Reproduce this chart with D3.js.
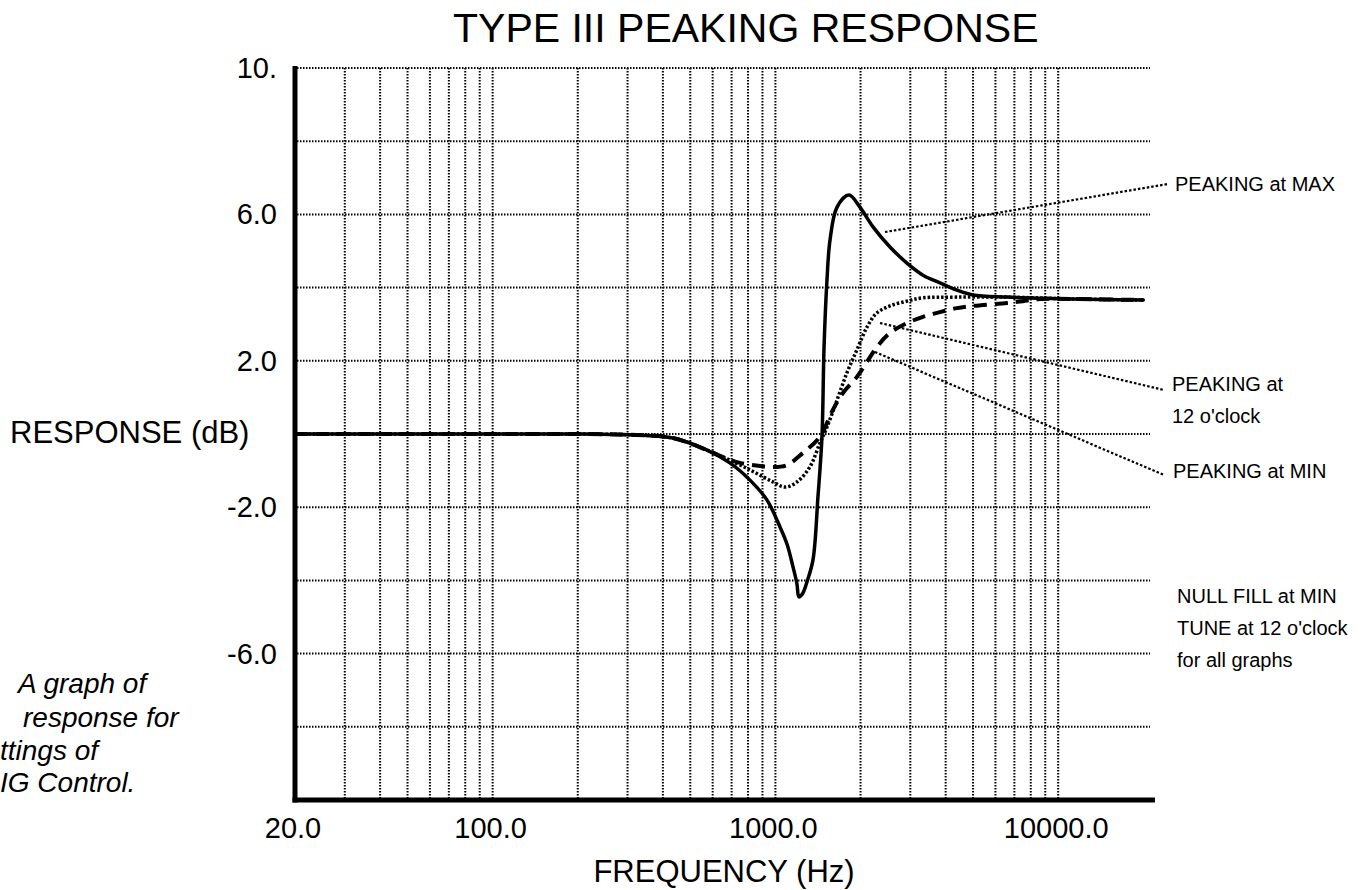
<!DOCTYPE html>
<html>
<head>
<meta charset="utf-8">
<script src="https://cdn.jsdelivr.net/npm/d3@7"></script>
<style>
  body { margin: 0; background: #fff; }
  svg { display: block; font-family: "Liberation Sans", Arial, Helvetica, sans-serif; }
</style>
</head>
<body>
<div id="stage_view"></div>
<script>

// tick values / labels
var xTicks = [20, 100, 1000, 10000];
var xTickLabels = ["20.0", "100.0", "1000.0", "10000.0"];
var yTicks = [10, 6, 2, -2, -6];
var yTickLabels = ["10.", "6.0", "2.0", "-2.0", "-6.0"];
var yGrid = [10, 8, 6, 4, 2, 0, -2, -4, -6, -8];
var xGrid = [30, 40, 50, 60, 70, 80, 90, 100,
             200, 300, 400, 500, 600, 700, 800, 900, 1000,
             2000, 3000, 4000, 5000, 6000, 7000, 8000, 9000, 10000];

// PEAKING at MAX (solid)
var freqMax = [20, 100, 200, 300, 332, 434, 573, 690, 813, 933, 1038, 1098, 1154, 1192, 1211, 1250, 1292, 1358, 1414,
               1461, 1486, 1522, 1560, 1652, 1820, 1990, 2214, 2542, 2918, 3326, 3818, 4384, 4992,
               6592, 11272, 20000];
var dbMax = [0, 0, 0, -0.02, -0.03, -0.11, -0.44, -0.79, -1.26, -1.80, -2.54, -3.0, -3.63, -4.1, -4.45, -4.35, -4.05, -3.44, -1.72,
             -0.08, 2.38, 4.21, 5.30, 6.20, 6.53, 6.20, 5.66, 5.11, 4.67, 4.34, 4.13, 3.93, 3.80,
             3.74, 3.69, 3.66];

// PEAKING at 12 o'clock (dotted)
var freq12 = [20, 100, 200, 300, 434, 573, 653, 813, 980, 1081, 1192, 1324, 1436, 1522, 1652, 1790,
              1942, 2108, 2286, 2542, 2918, 3326, 4384, 6592, 11272, 20000];
var db12 = [0, 0, 0, -0.02, -0.11, -0.44, -0.63, -0.98, -1.31, -1.45, -1.31, -0.90, -0.25, 0.19, 0.93, 1.67,
            2.30, 2.92, 3.31, 3.50, 3.63, 3.72, 3.74, 3.74, 3.69, 3.66];

// PEAKING at MIN (dashed)
var freqMin = [20, 100, 200, 300, 434, 573, 653, 750, 980, 1098, 1250, 1436, 1596, 1733, 1942, 2108,
               2286, 2542, 2918, 3326, 3818, 4384, 4992, 6592, 7500, 8618, 11272, 20000];
var dbMin = [0, 0, 0, -0.02, -0.11, -0.44, -0.63, -0.79, -0.90, -0.85, -0.52, -0.08, 0.66, 1.12, 1.56, 1.97,
             2.38, 2.76, 3.03, 3.20, 3.33, 3.44, 3.50, 3.58, 3.63, 3.69, 3.69, 3.66];

var notes = [
  {text: "PEAKING at MAX", x: 1175, y: 191, from: [885, 232], to: [1168, 184]},
  {text: "PEAKING at", x: 1172, y: 391, from: [880, 323], to: [1164, 390]},
  {text: "12 o'clock", x: 1172, y: 423},
  {text: "PEAKING at MIN", x: 1173, y: 478, from: [875, 352], to: [1164, 475]},
  {text: "NULL FILL at MIN", x: 1177, y: 603},
  {text: "TUNE at 12 o'clock", x: 1177, y: 635},
  {text: "for all graphs", x: 1177, y: 667}
];

var caption = [
  {text: "A graph of", x: 18, y: 693},
  {text: "response for", x: 23, y: 727},
  {text: "ttings of", x: 0, y: 760},
  {text: "IG Control.", x: 0, y: 792}
];

var svgContainer = d3.select("#stage_view")
                     .append("svg")
                     .attr("width", 1368)
                     .attr("height", 890);

svgContainer.append("rect").attr("width", 1368).attr("height", 890).attr("fill", "#fff");

var xScale = d3.scaleLog().domain([20, 22000]).range([295, 1155]);
var yScale = d3.scaleLinear().domain([-10, 10]).range([800, 68]);

// grid
var gridGroup = svgContainer.append("g").attr("class", "grid");
gridGroup.selectAll("line.h")
         .data(yGrid)
         .enter()
         .append("line")
         .attr("class", "h")
         .attr("x1", 297)
         .attr("x2", 1150)
         .attr("y1", function(d) { return yScale(d); })
         .attr("y2", function(d) { return yScale(d); });
gridGroup.selectAll("line.v")
         .data(xGrid)
         .enter()
         .append("line")
         .attr("class", "v")
         .attr("x1", function(d) { return xScale(d); })
         .attr("x2", function(d) { return xScale(d); })
         .attr("y1", yScale(10))
         .attr("y2", yScale(-10));
gridGroup.selectAll("line")
         .attr("stroke", "#000")
         .attr("stroke-width", 2)
         .attr("stroke-dasharray", "1.5,1.5");

// axes (thick lines, labels only)
svgContainer.append("line")
            .attr("x1", xScale(20)).attr("x2", xScale(20))
            .attr("y1", yScale(10) - 2).attr("y2", yScale(-10) + 2.5)
            .attr("stroke", "#000").attr("stroke-width", 5);
svgContainer.append("line")
            .attr("x1", xScale(20) - 2.5).attr("x2", xScale(22000))
            .attr("y1", yScale(-10)).attr("y2", yScale(-10))
            .attr("stroke", "#000").attr("stroke-width", 5);

svgContainer.selectAll("text.ytick")
            .data(yTicks)
            .enter()
            .append("text")
            .attr("class", "ytick")
            .attr("x", 277)
            .attr("y", function(d) { return yScale(d) + 10; })
            .attr("text-anchor", "end")
            .attr("font-size", 29)
            .text(function(d, i) { return yTickLabels[i]; });

svgContainer.selectAll("text.xtick")
            .data(xTicks)
            .enter()
            .append("text")
            .attr("class", "xtick")
            .attr("x", function(d) { return xScale(d) - 2; })
            .attr("y", 838)
            .attr("text-anchor", "middle")
            .attr("font-size", 29)
            .text(function(d, i) { return xTickLabels[i]; });

svgContainer.append("text")
            .attr("x", 453).attr("y", 42)
            .attr("font-size", 41)
            .text("TYPE III PEAKING RESPONSE");
svgContainer.append("text")
            .attr("x", 724).attr("y", 882)
            .attr("text-anchor", "middle")
            .attr("font-size", 31)
            .text("FREQUENCY (Hz)");
svgContainer.append("text")
            .attr("x", 10).attr("y", 443)
            .attr("font-size", 31)
            .text("RESPONSE (dB)");

// curves
var line = d3.line()
             .x(function(d) { return xScale(d[0]); })
             .y(function(d) { return yScale(d[1]); })
             .curve(d3.curveCatmullRom.alpha(0.5));

function pairs(f, v) {
  return f.map(function(d, i) { return [d, v[i]]; });
}

svgContainer.append("path")
            .datum(pairs(freqMin, dbMin))
            .attr("d", line)
            .attr("fill", "none")
            .attr("stroke", "#000")
            .attr("stroke-width", 4)
            .attr("stroke-dasharray", "13,8");
svgContainer.append("path")
            .datum(pairs(freq12, db12))
            .attr("d", line)
            .attr("fill", "none")
            .attr("stroke", "#000")
            .attr("stroke-width", 3.5)
            .attr("stroke-dasharray", "2.5,2");
svgContainer.append("path")
            .datum(pairs(freqMax, dbMax))
            .attr("d", line)
            .attr("fill", "none")
            .attr("stroke", "#000")
            .attr("stroke-width", 3.5)
            .attr("stroke-linecap", "round")
            .attr("stroke-linejoin", "round");

// annotations
var noteGroup = svgContainer.append("g");
noteGroup.selectAll("line")
         .data(notes.filter(function(d) { return d.from; }))
         .enter()
         .append("line")
         .attr("x1", function(d) { return d.from[0]; })
         .attr("y1", function(d) { return d.from[1]; })
         .attr("x2", function(d) { return d.to[0]; })
         .attr("y2", function(d) { return d.to[1]; })
         .attr("stroke", "#000")
         .attr("stroke-width", 2.2)
         .attr("stroke-dasharray", "2.5,2");
noteGroup.selectAll("text")
         .data(notes)
         .enter()
         .append("text")
         .attr("x", function(d) { return d.x; })
         .attr("y", function(d) { return d.y; })
         .attr("font-size", 20)
         .text(function(d) { return d.text; });

svgContainer.selectAll("text.caption")
            .data(caption)
            .enter()
            .append("text")
            .attr("class", "caption")
            .attr("x", function(d) { return d.x; })
            .attr("y", function(d) { return d.y; })
            .attr("font-size", 28)
            .attr("font-style", "italic")
            .text(function(d) { return d.text; });

</script>
</body>
</html>
